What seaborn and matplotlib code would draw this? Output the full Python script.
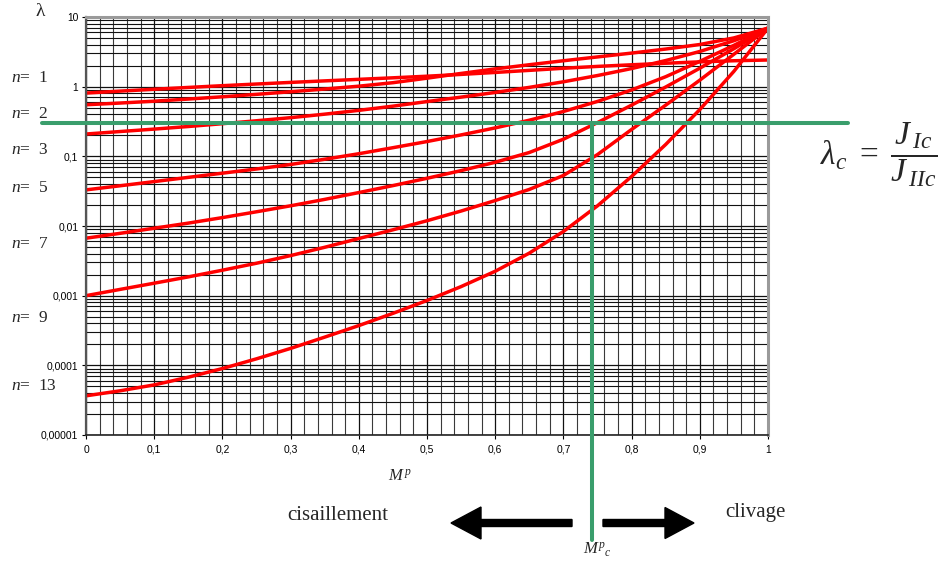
import numpy as np
import pandas as pd
import matplotlib
matplotlib.use("Agg")
import matplotlib.pyplot as plt
from matplotlib.ticker import FixedLocator, MultipleLocator, LogLocator, NullFormatter
from matplotlib.patches import FancyArrow
import seaborn as sns

# ---------------- data ----------------
M = [0, 0.05, 0.1, 0.15, 0.2, 0.25, 0.3, 0.35, 0.4, 0.45, 0.5,
     0.55, 0.6, 0.65, 0.7, 0.75, 0.8, 0.85, 0.9, 0.95, 1.0]
lam_n1 = [0.809, 0.863, 0.918, 0.975, 1.033, 1.091, 1.151, 1.211, 1.274, 1.340, 1.413,
          1.500, 1.600, 1.714, 1.837, 1.954, 2.061, 2.168, 2.270, 2.355, 2.415]
lam_n2 = [0.550, 0.582, 0.619, 0.664, 0.716, 0.776, 0.845, 0.925, 1.016, 1.140, 1.324,
          1.549, 1.799, 2.065, 2.355, 2.673, 3.034, 3.467, 4.027, 5.01, 6.92]
lam_n3 = [0.209, 0.227, 0.246, 0.268, 0.294, 0.324, 0.359, 0.403, 0.457, 0.525, 0.611,
          0.708, 0.826, 0.977, 1.175, 1.445, 1.820, 2.371, 3.199, 4.571, 6.92]
lam_n5 = [0.0330, 0.0378, 0.0434, 0.0499, 0.0573, 0.0658, 0.0764, 0.0908, 0.109, 0.133, 0.163,
          0.203, 0.256, 0.330, 0.440, 0.614, 0.897, 1.390, 2.307, 3.917, 6.92]
lam_n7 = [0.00668, 0.00785, 0.00929, 0.0110, 0.0132, 0.0160, 0.0195, 0.0241, 0.0302, 0.0380, 0.0484,
          0.0624, 0.0822, 0.1135, 0.176, 0.305, 0.543, 0.989, 1.841, 3.508, 6.92]
lam_n9 = [0.00100, 0.00123, 0.00151, 0.00186, 0.00232, 0.00292, 0.00376, 0.00495, 0.00661, 0.00881, 0.0119,
          0.0164, 0.0232, 0.0335, 0.0531, 0.106, 0.243, 0.543, 1.24, 2.92, 6.92]
lam_n13 = [3.65e-5, 4.31e-5, 5.24e-5, 6.75e-5, 8.99e-5, 1.24e-4, 1.75e-4, 2.54e-4, 3.72e-4, 5.57e-4, 8.53e-4,
           1.35e-3, 2.24e-3, 4.08e-3, 8.34e-3, 0.0195, 0.0514, 0.148, 0.469, 1.66, 6.92]

n_labels = ["1", "2", "3", "5", "7", "9", "13"]
series = [lam_n1, lam_n2, lam_n3, lam_n5, lam_n7, lam_n9, lam_n13]

x_ticks = [0, 0.1, 0.2, 0.3, 0.4, 0.5, 0.6, 0.7, 0.8, 0.9, 1.0]
x_ticklabels = ["0", "0,1", "0,2", "0,3", "0,4", "0,5", "0,6", "0,7", "0,8", "0,9", "1"]
y_ticks = [1e-5, 1e-4, 1e-3, 1e-2, 1e-1, 1, 10]
y_ticklabels = ["0,00001", "0,0001", "0,001", "0,01", "0,1", "1", "10"]

lam_c = 0.30   # critical ratio (green horizontal line)
M_c = 0.742    # critical mixity (green vertical line)

df = pd.concat(
    [pd.DataFrame({"M": M, "lam": s, "n": n}) for n, s in zip(n_labels, series)],
    ignore_index=True,
)

# ---------------- figure ----------------
sns.set_style("white")
plt.rcParams["font.family"] = ["Liberation Sans", "DejaVu Sans"]
plt.rcParams["mathtext.fontset"] = "custom"
plt.rcParams["mathtext.rm"] = "Liberation Serif"
plt.rcParams["mathtext.it"] = "Liberation Serif:italic"
plt.rcParams["mathtext.bf"] = "Liberation Serif:bold"

W, H = 941, 567
fig = plt.figure(figsize=(W / 100, H / 100), dpi=100)
L, R, T, B = 86, 768, 17, 435
ax = fig.add_axes([L / W, 1 - B / H, (R - L) / W, (B - T) / H])

ax.set_yscale("log")
ax.set_xlim(0, 1)
ax.set_ylim(1e-5, 10)

# grid
ax.xaxis.set_major_locator(FixedLocator(x_ticks))
ax.xaxis.set_minor_locator(MultipleLocator(0.02))
ax.yaxis.set_major_locator(FixedLocator(y_ticks))
ax.yaxis.set_minor_locator(LogLocator(base=10, subs=np.arange(2, 10), numticks=20))
ax.yaxis.set_minor_formatter(NullFormatter())
ax.set_xticklabels(x_ticklabels)
ax.set_yticklabels(y_ticklabels)
ax.grid(which="major", color="#111111", lw=0.9)
ax.grid(which="minor", axis="x", color="#3a3a3a", lw=0.8)
ax.grid(which="minor", axis="y", color="#111111", lw=0.8)
ax.set_axisbelow(True)

ax.tick_params(which="major", direction="out", length=3, width=0.8, labelsize=7.4,
               colors="black", pad=4, left=True, bottom=True)
ax.tick_params(axis="y", which="major", pad=2.5)
ax.tick_params(which="minor", length=0)

for side in ("top", "right"):
    ax.spines[side].set_color("#9a9a9a")
    ax.spines[side].set_linewidth(2.2)
ax.spines["left"].set_color("#555555")
ax.spines["left"].set_linewidth(1.6)
ax.spines["bottom"].set_color("#222222")
ax.spines["bottom"].set_linewidth(1.2)

# curves
sns.lineplot(data=df, x="M", y="lam", hue="n", palette=["#ff0000"] * len(n_labels),
             legend=False, lw=2.5, ax=ax, sort=True)
for ln in ax.get_lines():
    ln.set_solid_joinstyle("round")
    ln.set_solid_capstyle("round")
ax.set_xlabel("")
ax.set_ylabel("")

# green critical lines
green = "#3a9e6c"
ax.plot([(42 - L) / (R - L), (848 - L) / (R - L)], [lam_c, lam_c], color=green, lw=2.9,
        transform=ax.get_yaxis_transform(), clip_on=False, zorder=5)
frac = (np.log10(lam_c) + 5) / 6
ax.plot([M_c, M_c], [frac, (B - 540) / (B - T)], color=green, lw=2.9,
        transform=ax.get_xaxis_transform(), clip_on=False, zorder=5)

# ---------------- texts ----------------
def fx(px):
    return px / W

def fy(py):
    return 1 - py / H

serif = ["Liberation Serif", "DejaVu Serif"]
fig.text(fx(40), fy(12), "λ", fontsize=14, ha="center", va="center", family=serif)

n_pos = [78, 114, 150, 188, 244, 318, 386]
for n, py in zip(n_labels, n_pos):
    fig.text(fx(11), fy(py), r"$n$" + "=  " + n, fontsize=12.5, ha="left", va="center",
             family=serif)

fig.text(fx(400), fy(477), r"$M^{\,p}$", fontsize=12, ha="center", va="center", family=serif)
fig.text(fx(937), fy(155), r"$\lambda_c\ =\ \dfrac{J_{\,Ic}}{J_{\,IIc}}$", fontsize=24,
         ha="right", va="center", family=serif)
fig.text(fx(338), fy(515), "cisaillement", fontsize=15, ha="center", va="center", family=serif)
fig.text(fx(755), fy(512), "clivage", fontsize=15, ha="center", va="center", family=serif)
fig.text(fx(597), fy(550), r"$M^{p}{}_{c}$", fontsize=12, ha="center", va="center", family=serif)

# arrows (in inches, to keep aspect)
fig.add_artist(FancyArrow(5.72, (H - 523) / 100, -1.21, 0, width=0.07, head_width=0.32,
                          head_length=0.30, length_includes_head=True, color="black",
                          transform=fig.dpi_scale_trans))
fig.add_artist(FancyArrow(6.03, (H - 523) / 100, 0.91, 0, width=0.07, head_width=0.31,
                          head_length=0.29, length_includes_head=True, color="black",
                          transform=fig.dpi_scale_trans))

fig.savefig("out.png", dpi=100)
